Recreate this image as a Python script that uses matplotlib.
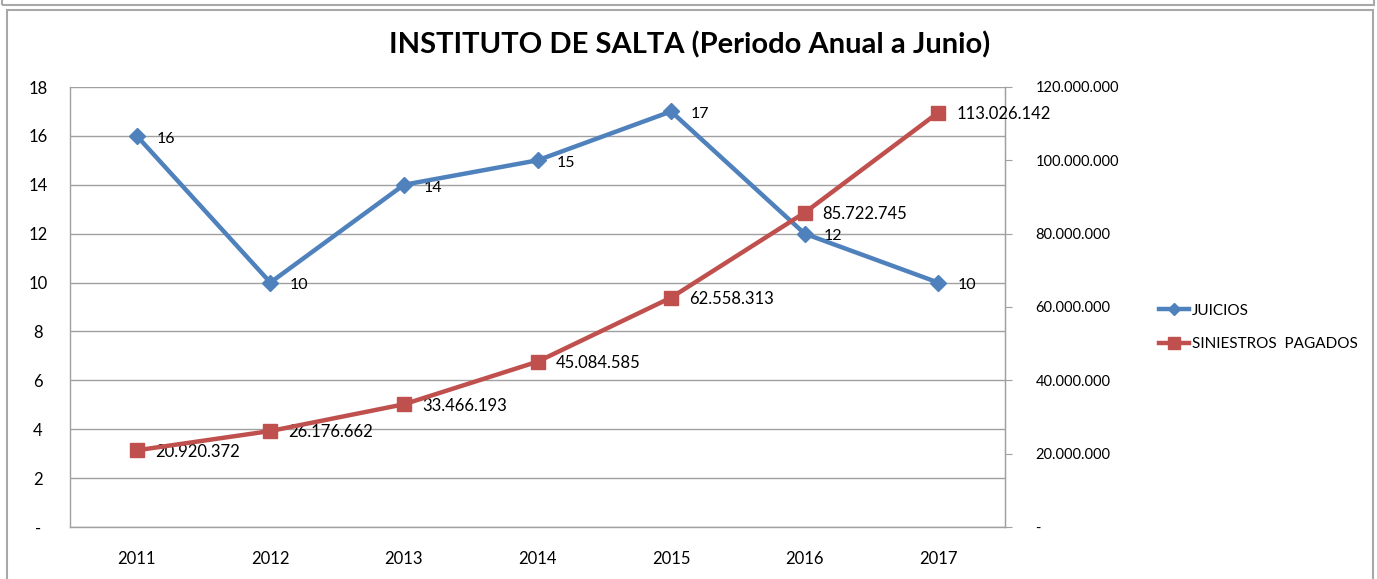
import matplotlib.pyplot as plt
from matplotlib.patches import Rectangle

years = ["2011", "2012", "2013", "2014", "2015", "2016", "2017"]
juicios = [16, 10, 14, 15, 17, 12, 10]
siniestros = [20920372, 26176662, 33466193, 45084585, 62558313, 85722745, 113026142]

def fmt_miles(v):
    if v == 0:
        return "-"
    return f"{int(v):,}".replace(",", ".")

plt.rcParams["font.family"] = ["Lato", "DejaVu Sans"]

blue = "#4F81BD"
red = "#C0504D"
grid = "#A0A0A0"

fig = plt.figure(figsize=(13.77, 5.79), dpi=100)

# outer frames (excel sheet look)
fig.patches.append(Rectangle((2/1377, 1 - 5/579), 1372/1377, 10/579, transform=fig.transFigure,
                             fill=False, edgecolor="#A8A8A8", lw=1.5))
fig.patches.append(Rectangle((7/1377, -0.02), 1366/1377, 1 - 10/579 + 0.02, transform=fig.transFigure,
                             fill=False, edgecolor="#A8A8A8", lw=1.5))

ax = fig.add_axes([70/1377, 1 - 527/579, 935/1377, 440/579])
x = list(range(len(years)))

ax.set_xlim(-0.5, len(years) - 0.5)
ax.set_ylim(0, 18)
ax.set_yticks(range(0, 19, 2))
ax.set_yticklabels(["-" if t == 0 else str(t) for t in range(0, 19, 2)], fontsize=12)
ax.set_xticks(x)
ax.set_xticklabels(years, fontsize=12)
ax.tick_params(axis="x", length=0, pad=17)
ax.tick_params(axis="y", length=0, pad=23)
for lbl in ax.get_yticklabels():
    lbl.set_horizontalalignment("center")
ax.yaxis.grid(True, color=grid, lw=1)
ax.set_axisbelow(True)
for s in ax.spines.values():
    s.set_color(grid)
    s.set_linewidth(1)
ax.spines["top"].set_visible(False)

ax2 = ax.twinx()
ax2.set_ylim(0, 120000000)
ticks2 = list(range(0, 120000001, 20000000))
ax2.set_yticks(ticks2)
ax2.set_yticklabels([fmt_miles(t) for t in ticks2], fontsize=10.5)
ax2.tick_params(axis="y", length=5, color=grid, pad=17)
for s in ax2.spines.values():
    s.set_visible(False)
ax2.spines["right"].set_visible(True)
ax2.spines["right"].set_color(grid)

l1, = ax.plot(x, juicios, color=blue, lw=3.2, marker="D", ms=8, label="JUICIOS", zorder=5)
l2, = ax2.plot(x, siniestros, color=red, lw=3.2, marker="s", ms=10, label="SINIESTROS  PAGADOS", zorder=5)

for xi, v in zip(x, juicios):
    ax.annotate(str(v), (xi, v), xytext=(14, -2), textcoords="offset points",
                ha="left", va="center", fontsize=11.5)
for xi, v in zip(x, siniestros):
    ax2.annotate(fmt_miles(v), (xi, v), xytext=(13, -1), textcoords="offset points",
                 ha="left", va="center", fontsize=12)

fig.legend([l1, l2], ["JUICIOS", "SINIESTROS  PAGADOS"], loc="upper left",
           bbox_to_anchor=(1145/1377, 1 - 290/579), frameon=False, fontsize=11,
           handlelength=2.0, handletextpad=0.2, labelspacing=1.25, markerscale=0.8)

fig.text(690/1377, 1 - 45/579, "INSTITUTO DE SALTA (Periodo Anual a Junio)",
         ha="center", va="center", fontsize=21, fontweight="bold")

fig.savefig("out.png", dpi=100)
